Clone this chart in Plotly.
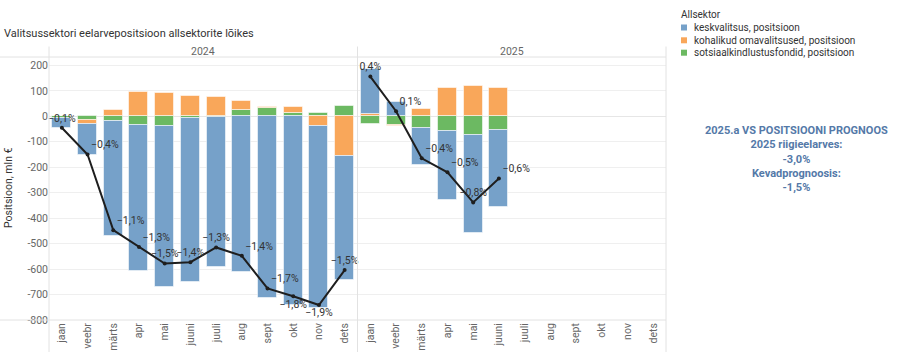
import plotly.graph_objects as go

# ---------------- data ----------------
months = ["jaan", "veebr", "märts", "apr", "mai", "juuni", "juuli", "aug", "sept", "okt", "nov", "dets"]
years = ["2024", "2025"]
series_names = ["keskvalitsus, positsioon", "kohalikud omavalitsused, positsioon", "sotsiaalkindlustusfondid, positsioon"]

keskvalitsus_2024 = [-37, -120, -451, -576, -631, -646, -588, -610, -713, -742, -714, -488]
kov_2024 = [0, -14, 24, 96, 91, 79, 77, 38, 3, 21, -39, -155]
sotsiaal_2024 = [-8, -16, -20, -33, -38, -6, -4, 24, 34, 14, 12, 39]
pct_2024 = ["−0,1%", "−0,4%", "−1,1%", "−1,3%", "−1,5%", "−1,4%", "−1,3%", "−1,4%", "−1,7%", "−1,8%", "−1,9%", "−1,5%"]

keskvalitsus_2025 = [177, 58, -148, -272, -386, -303]
kov_2025 = [9, -5, 28, 110, 120, 113]
sotsiaal_2025 = [-30, -33, -45, -58, -72, -54]
pct_2025 = ["0,4%", "0,1%", "−0,4%", "−0,5%", "−0,8%", "−0,6%"]

y_ticks = [200, 100, 0, -100, -200, -300, -400, -500, -600, -700, -800]

info_lines = ["2025.a VS POSITSIOONI PROGNOOS", "2025 riigieelarves:", "-3,0%", "Kevadprognoosis:", "-1,5%"]

# ---------------- styling / geometry ----------------
W, H = 906, 352
L, R, T, B = 49, 240, 57, 32
PW, PH = W - L - R, H - T - B
FONT = "Roboto"
C_BLUE, C_ORANGE, C_GREEN = "#76a1c9", "#f9a75a", "#6cb962"
GRID = "#efefef"
DIV = "#e2e2e2"


def px_x(x):
    return (x - L) / PW


def px_y(y):
    return (H - B - y) / PH


x24 = list(range(12))
x25 = list(range(12, 12 + len(keskvalitsus_2025)))
xall = x24 + x25

blue = keskvalitsus_2024 + keskvalitsus_2025
orange = kov_2024 + kov_2025
green = sotsiaal_2024 + sotsiaal_2025

tot24 = [a + b + c for a, b, c in zip(keskvalitsus_2024, kov_2024, sotsiaal_2024)]
tot25 = [a + b + c for a, b, c in zip(keskvalitsus_2025, kov_2025, sotsiaal_2025)]

pos24 = ["top center", "top right", "top right", "top right", "top center", "top center",
         "top center", "top right", "top right", "bottom center", "bottom center", "top center"]
pos25 = ["top center", "top right", "top right", "top right", "top center", "top right"]

fig = go.Figure()
bar_line = dict(color="rgba(255,255,255,0.55)", width=1)
fig.add_trace(go.Bar(x=xall, y=green, name=series_names[2], marker=dict(color=C_GREEN, line=bar_line), width=0.74))
fig.add_trace(go.Bar(x=xall, y=orange, name=series_names[1], marker=dict(color=C_ORANGE, line=bar_line), width=0.74))
fig.add_trace(go.Bar(x=xall, y=blue, name=series_names[0], marker=dict(color=C_BLUE, line=bar_line), width=0.74))

for xs, ys, txt, pos in [(x24, tot24, pct_2024, pos24), (x25, tot25, pct_2025, pos25)]:
    fig.add_trace(go.Scatter(
        x=xs, y=ys, mode="lines+markers+text", text=txt, textposition=pos,
        textfont=dict(family=FONT, size=10.5, color="#333333"),
        line=dict(color="#1e1e1e", width=2), marker=dict(color="#1e1e1e", size=4),
        showlegend=False, cliponaxis=False))

fig.update_layout(
    width=W, height=H, margin=dict(l=L, r=R, t=T, b=B, autoexpand=False),
    barmode="relative", bargap=0, showlegend=False,
    plot_bgcolor="white", paper_bgcolor="white",
    font=dict(family=FONT, size=10.5, color="#666666"),
)
fig.update_xaxes(range=[-0.5, 23.5], tickvals=list(range(24)), ticktext=months * 2,
                 tickangle=-90, showgrid=False, zeroline=False, showline=False, automargin=False,
                 tickfont=dict(family=FONT, size=10.5, color="#666666"), ticks="")
fig.update_yaxes(range=[-800, 233], tickvals=y_ticks, ticktext=[str(v) for v in y_ticks],
                 showgrid=True, gridcolor=GRID, gridwidth=1, zeroline=True, zerolinecolor="#e6e6e6",
                 zerolinewidth=1, showline=False, ticks="", automargin=False,
                 tickfont=dict(family=FONT, size=10.5, color="#666666"))

shapes = []
# pane dividers (vertical)
for xp in [0.0, 0.5, 1.0]:
    shapes.append(dict(type="line", xref="paper", yref="paper", x0=xp, x1=xp,
                       y0=px_y(H), y1=px_y(46.5), line=dict(color=DIV, width=1)))
# header bottom / axis bottom
for yp in [1.0, 0.0]:
    shapes.append(dict(type="line", xref="paper", yref="paper", x0=px_x(0), x1=1.0,
                       y0=yp, y1=yp, line=dict(color=DIV, width=1)))

annotations = []
annotations.append(dict(text="Valitsussektori eelarvepositsioon allsektorite lõikes", xref="paper", yref="paper",
                        x=px_x(2), y=px_y(33), xanchor="left", yanchor="middle", showarrow=False,
                        font=dict(family=FONT, size=11, color="#333333")))
for i, yr in enumerate(years):
    annotations.append(dict(text=yr, xref="paper", yref="paper", x=0.25 + 0.5 * i, y=px_y(52),
                            xanchor="center", yanchor="middle", showarrow=False,
                            font=dict(family=FONT, size=10.5, color="#666666")))
annotations.append(dict(text="Positsioon, mln €", xref="paper", yref="paper", x=px_x(8), y=px_y(188),
                        xanchor="center", yanchor="middle", textangle=-90, showarrow=False,
                        font=dict(family=FONT, size=10.5, color="#333333")))

# legend (manual)
annotations.append(dict(text="Allsektor", xref="paper", yref="paper", x=px_x(679), y=px_y(15),
                        xanchor="left", yanchor="middle", showarrow=False,
                        font=dict(family=FONT, size=10, color="#333333")))
leg_cols = [C_BLUE, C_ORANGE, C_GREEN]
leg_y = [27.5, 40.3, 52.7]
for name, col, yy in zip(series_names, leg_cols, leg_y):
    shapes.append(dict(type="rect", xref="paper", yref="paper", x0=px_x(681), x1=px_x(687),
                       y0=px_y(yy + 3), y1=px_y(yy - 3), fillcolor=col, line=dict(width=0)))
    annotations.append(dict(text=name, xref="paper", yref="paper", x=px_x(692), y=px_y(yy),
                            xanchor="left", yanchor="middle", showarrow=False,
                            font=dict(family=FONT, size=10, color="#333333")))

# info text block (single multi-line text)
annotations.append(dict(text="<br>".join(info_lines), xref="paper", yref="paper",
                        x=px_x(796.5), y=px_y(158.5), xanchor="center", yanchor="middle",
                        align="center", showarrow=False,
                        font=dict(family=FONT, size=11, color="#5479a8", weight="bold")))

fig.update_layout(shapes=shapes, annotations=annotations)
fig.write_html("out.html")
